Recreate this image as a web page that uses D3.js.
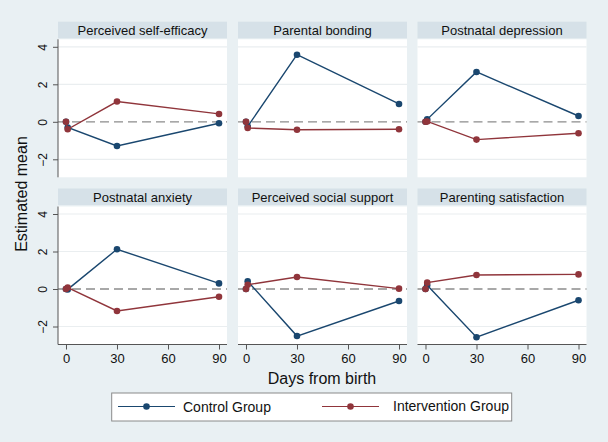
<!DOCTYPE html>
<html><head><meta charset="utf-8">
<script src="https://cdn.jsdelivr.net/npm/d3@7"></script>
<style>body{margin:0;background:#e9f0f3;}svg{display:block;font-family:"Liberation Sans",Arial,sans-serif;}</style>
</head><body><svg id="c" width="608" height="442"></svg>
<script>
const panels = ["Perceived self-efficacy","Parental bonding","Postnatal depression","Postnatal anxiety","Perceived social support","Parenting satisfaction"];
const days = [0, 1, 30, 90];
const control = [
  [0, -0.30, -1.29, -0.08],
  [0, -0.25, 3.58, 0.95],
  [0, 0.13, 2.66, 0.31],
  [0, -0.02, 2.12, 0.30],
  [0, 0.41, -2.51, -0.64],
  [0, 0.20, -2.57, -0.60]
];
const intervention = [
  [0, -0.40, 1.08, 0.42],
  [0, -0.33, -0.42, -0.40],
  [0, 0.02, -0.95, -0.61],
  [0, 0.08, -1.17, -0.41],
  [0, 0.23, 0.64, 0.02],
  [0, 0.34, 0.75, 0.78]
];
const seriesNames = ["Control Group","Intervention Group"];
const colors = ["#1a476f","#90353b"];
const yTicks = [-2, 0, 2, 4];
const xTicks = [0, 30, 60, 90];

const svg = d3.select("#c");
svg.append("rect").attr("width",608).attr("height",442).attr("fill","#e9f0f3");

const colX = [58, 238, 417.5], pw = 169;
const stripTop = [21.7, 188.5], stripH = 16.6;
const plotTop = [39.3, 206.5], ph = 138;

const x = d3.scaleLinear().domain([-4.7, 94.7]).range([0, pw]);
const y = d3.scaleLinear().domain([-2.96, 4.4]).range([ph, 0]);

panels.forEach((name, i) => {
  const r = Math.floor(i/3), c = i%3;
  const g = svg.append("g").attr("transform", `translate(${colX[c]},${plotTop[r]})`);
  // strip
  svg.append("rect").attr("x", colX[c]).attr("y", stripTop[r]).attr("width", pw).attr("height", stripH).attr("fill","#d6e1e8");
  svg.append("text").attr("x", colX[c]+pw/2).attr("y", stripTop[r]+13).attr("text-anchor","middle")
    .attr("font-size",13).attr("fill","#111").text(name);
  g.append("rect").attr("width", pw).attr("height", ph).attr("fill","#fff");
  // grid
  yTicks.filter(t=>t!==0).forEach(t => {
    g.append("line").attr("x1",0).attr("x2",pw).attr("y1",y(t)).attr("y2",y(t)).attr("stroke","#eaeef0").attr("stroke-width",1.2);
  });
  g.append("line").attr("x1",0).attr("x2",pw).attr("y1",y(0)).attr("y2",y(0))
    .attr("stroke","#8c8c8c").attr("stroke-width",1.3).attr("stroke-dasharray","9,5");
  // axes
  if (c === 0) {
    const ya = g.append("g").call(d3.axisLeft(y).tickValues(yTicks).tickSize(5).tickFormat(d3.format("d")));
    ya.select(".domain").attr("stroke","#555").attr("d", `M0,0V${ph}`);
    ya.selectAll(".tick line").attr("stroke","#555");
    ya.selectAll(".tick text").attr("font-size",12).attr("fill","#111")
      .attr("transform","rotate(-90)").attr("text-anchor","middle").attr("x",0).attr("y",-11).attr("dy","0");
  }
  if (r === 1) {
    const xa = g.append("g").attr("transform",`translate(0,${ph})`).call(d3.axisBottom(x).tickValues(xTicks).tickSize(5));
    xa.select(".domain").attr("stroke","#555").attr("d", `M0,0H${pw}`);
    xa.selectAll(".tick line").attr("stroke","#555");
    xa.selectAll(".tick text").attr("font-size",13).attr("fill","#111").attr("y",9);
  }
  [control[i], intervention[i]].forEach((vals, s) => {
    const pts = days.map((d,k)=>[x(d), y(vals[k])]);
    g.append("path").attr("d", d3.line()(pts)).attr("fill","none").attr("stroke",colors[s]).attr("stroke-width",1.4);
    g.selectAll(null).data(pts).enter().append("circle").attr("cx",d=>d[0]).attr("cy",d=>d[1]).attr("r",3.3).attr("fill",colors[s]);
  });
});

// axis titles
svg.append("text").attr("transform","translate(27,194) rotate(-90)").attr("text-anchor","middle").attr("font-size",16).attr("fill","#111").text("Estimated mean");
svg.append("text").attr("x",322).attr("y",384).attr("text-anchor","middle").attr("font-size",16).attr("fill","#111").text("Days from birth");

// legend
svg.append("rect").attr("x",111.7).attr("y",393).attr("width",400).attr("height",28).attr("fill","#fff").attr("stroke","#8a8a8a").attr("stroke-width",1);
const leg = [{x1:118,x2:175,tx:183,ty:412},{x1:322,x2:379,tx:393,ty:411}];
leg.forEach((l,s)=>{
  svg.append("line").attr("x1",l.x1).attr("x2",l.x2).attr("y1",406.5).attr("y2",406.5).attr("stroke",colors[s]).attr("stroke-width",1.2);
  svg.append("circle").attr("cx",(l.x1+l.x2)/2).attr("cy",406.5).attr("r",3.3).attr("fill",colors[s]);
  svg.append("text").attr("x",l.tx).attr("y",l.ty).attr("font-size",14).attr("fill","#111").text(seriesNames[s]);
});
</script></body></html>
